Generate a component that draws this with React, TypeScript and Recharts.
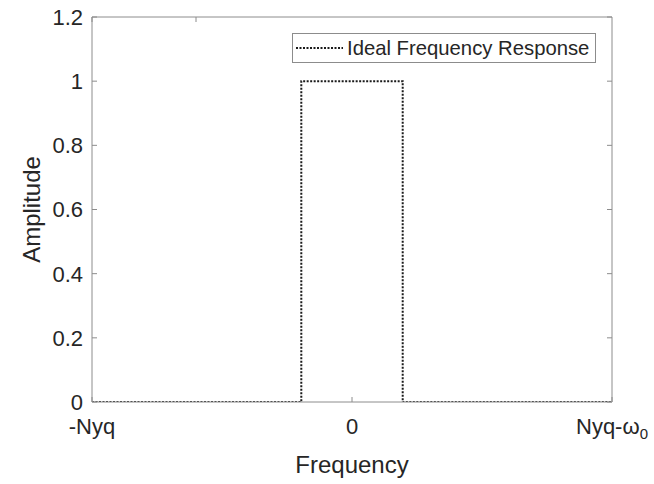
import React from 'react';
import { LineChart, Line, XAxis, YAxis, Legend, Label } from 'recharts';

// Ideal low-pass response: sample points (normalised frequency) and amplitudes
const freq = [-1, -0.195, -0.195, 0.195, 0.195, 1];
const amplitude = [0, 0, 1, 1, 0, 0];

// Axis ticks and their labels ("_" marks a subscript)
const xTicks = [-1, 0, 1];
const xTickLabels = ['-Nyq', '0', 'Nyq-ω_0'];
const yTicks = [0, 0.2, 0.4, 0.6, 0.8, 1, 1.2];

const seriesName = 'Ideal Frequency Response';
const xTitle = 'Frequency';
const yTitle = 'Amplitude';

const data = freq.map((f, i) => ({ f, a: amplitude[i] }));

const FONT = '"Liberation Sans", Arial, Helvetica, sans-serif';
const TEXT = '#262626';
const AXIS = '#8c8c8c';
const TICK_LEN = 5;
const TICK_FONT = 22;
const TITLE_FONT = 24;
const LEGEND_FONT = 20.3;

const BottomTick = (props: any) => {
  const { x, y, payload } = props;
  const idx = xTicks.indexOf(payload.value);
  const raw = idx >= 0 ? xTickLabels[idx] : String(payload.value);
  const [main, sub] = raw.split('_');
  return (
    <g>
      <line x1={x} x2={x} y1={y} y2={y - TICK_LEN} stroke={AXIS} strokeWidth={1} />
      <text x={x} y={y + 32} textAnchor="middle" fontSize={TICK_FONT} fill={TEXT} fontFamily={FONT}>
        <tspan>{main}</tspan>
        {sub !== undefined && (
          <tspan fontSize={15} dy={5}>{sub}</tspan>
        )}
      </text>
    </g>
  );
};

const TopTick = (props: any) => {
  const { x, y } = props;
  return <line x1={x} x2={x} y1={y} y2={y + TICK_LEN} stroke={AXIS} strokeWidth={1} />;
};

const LeftTick = (props: any) => {
  const { x, y, payload } = props;
  return (
    <g>
      <line x1={x} x2={x + TICK_LEN} y1={y} y2={y} stroke={AXIS} strokeWidth={1} />
      <text x={x - 9} y={y} dy="0.36em" textAnchor="end" fontSize={TICK_FONT} fill={TEXT} fontFamily={FONT}>
        {String(payload.value)}
      </text>
    </g>
  );
};

const RightTick = (props: any) => {
  const { x, y } = props;
  return <line x1={x} x2={x - TICK_LEN} y1={y} y2={y} stroke={AXIS} strokeWidth={1} />;
};

const XTitle = (props: any) => {
  const { viewBox } = props;
  const cx = viewBox.x + viewBox.width / 2;
  return (
    <text x={cx} y={viewBox.y + 71} textAnchor="middle" fontSize={TITLE_FONT} fill={TEXT} fontFamily={FONT}>
      {xTitle}
    </text>
  );
};

const YTitle = (props: any) => {
  const { viewBox } = props;
  const cx = viewBox.x + 40;
  const cy = viewBox.y + viewBox.height / 2;
  return (
    <text
      x={cx}
      y={cy}
      transform={`rotate(-90, ${cx}, ${cy})`}
      textAnchor="middle"
      fontSize={TITLE_FONT}
      fill={TEXT}
      fontFamily={FONT}
    >
      {yTitle}
    </text>
  );
};

const LegendBox = (props: any) => {
  const item = props.payload && props.payload[0];
  return (
    <div
      style={{
        boxSizing: 'border-box',
        width: 304,
        height: 30,
        border: `1px solid ${AXIS}`,
        background: '#fff',
        display: 'flex',
        alignItems: 'center',
      }}
    >
      <svg width={54} height={10} style={{ display: 'block', flex: 'none' }}>
        <line x1={3} x2={50} y1={5} y2={5} stroke="#1a1a1a" strokeWidth={2} strokeDasharray="2 1.5" />
      </svg>
      <span style={{ fontSize: LEGEND_FONT, color: TEXT, fontFamily: FONT, whiteSpace: 'nowrap', lineHeight: '28px' }}>
        {item ? item.value : seriesName}
      </span>
    </div>
  );
};

export default function App() {
  return (
    <div style={{ position: 'absolute', left: 0, top: 0, width: 654, height: 484, background: '#fff' }}>
      <LineChart width={654} height={484} data={data} margin={{ top: 16, right: 41, bottom: 0, left: 0 }}>
        <XAxis
          dataKey="f"
          type="number"
          domain={[-1, 1]}
          ticks={xTicks}
          interval={0}
          height={82}
          tickSize={0}
          tickMargin={0}
          tickLine={false}
          axisLine={{ stroke: AXIS, strokeWidth: 1 }}
          tick={<BottomTick />}
          allowDataOverflow
        >
          <Label content={<XTitle />} />
        </XAxis>
        <XAxis
          xAxisId="top"
          orientation="top"
          type="number"
          domain={[-1, 1]}
          ticks={xTicks}
          interval={0}
          height={1}
          tickSize={0}
          tickMargin={0}
          tickLine={false}
          axisLine={{ stroke: AXIS, strokeWidth: 1 }}
          tick={<TopTick />}
          allowDataOverflow
        />
        <YAxis
          type="number"
          domain={[0, 1.2]}
          ticks={yTicks}
          interval={0}
          width={92}
          tickSize={0}
          tickMargin={0}
          tickLine={false}
          axisLine={{ stroke: AXIS, strokeWidth: 1 }}
          tick={<LeftTick />}
          allowDataOverflow
        >
          <Label content={<YTitle />} />
        </YAxis>
        <YAxis
          yAxisId="right"
          orientation="right"
          type="number"
          domain={[0, 1.2]}
          ticks={yTicks}
          interval={0}
          width={1}
          tickSize={0}
          tickMargin={0}
          tickLine={false}
          axisLine={{ stroke: AXIS, strokeWidth: 1 }}
          tick={<RightTick />}
          allowDataOverflow
        />
        <Legend
          verticalAlign="middle"
          content={<LegendBox />}
          wrapperStyle={{ position: 'absolute', left: 292, top: 33, width: 'auto', height: 'auto' }}
        />
        <Line
          type="linear"
          dataKey="a"
          name={seriesName}
          stroke="#1a1a1a"
          strokeWidth={2}
          strokeDasharray="2 1.5"
          dot={false}
          activeDot={false}
          isAnimationActive={false}
        />
      </LineChart>
    </div>
  );
}
